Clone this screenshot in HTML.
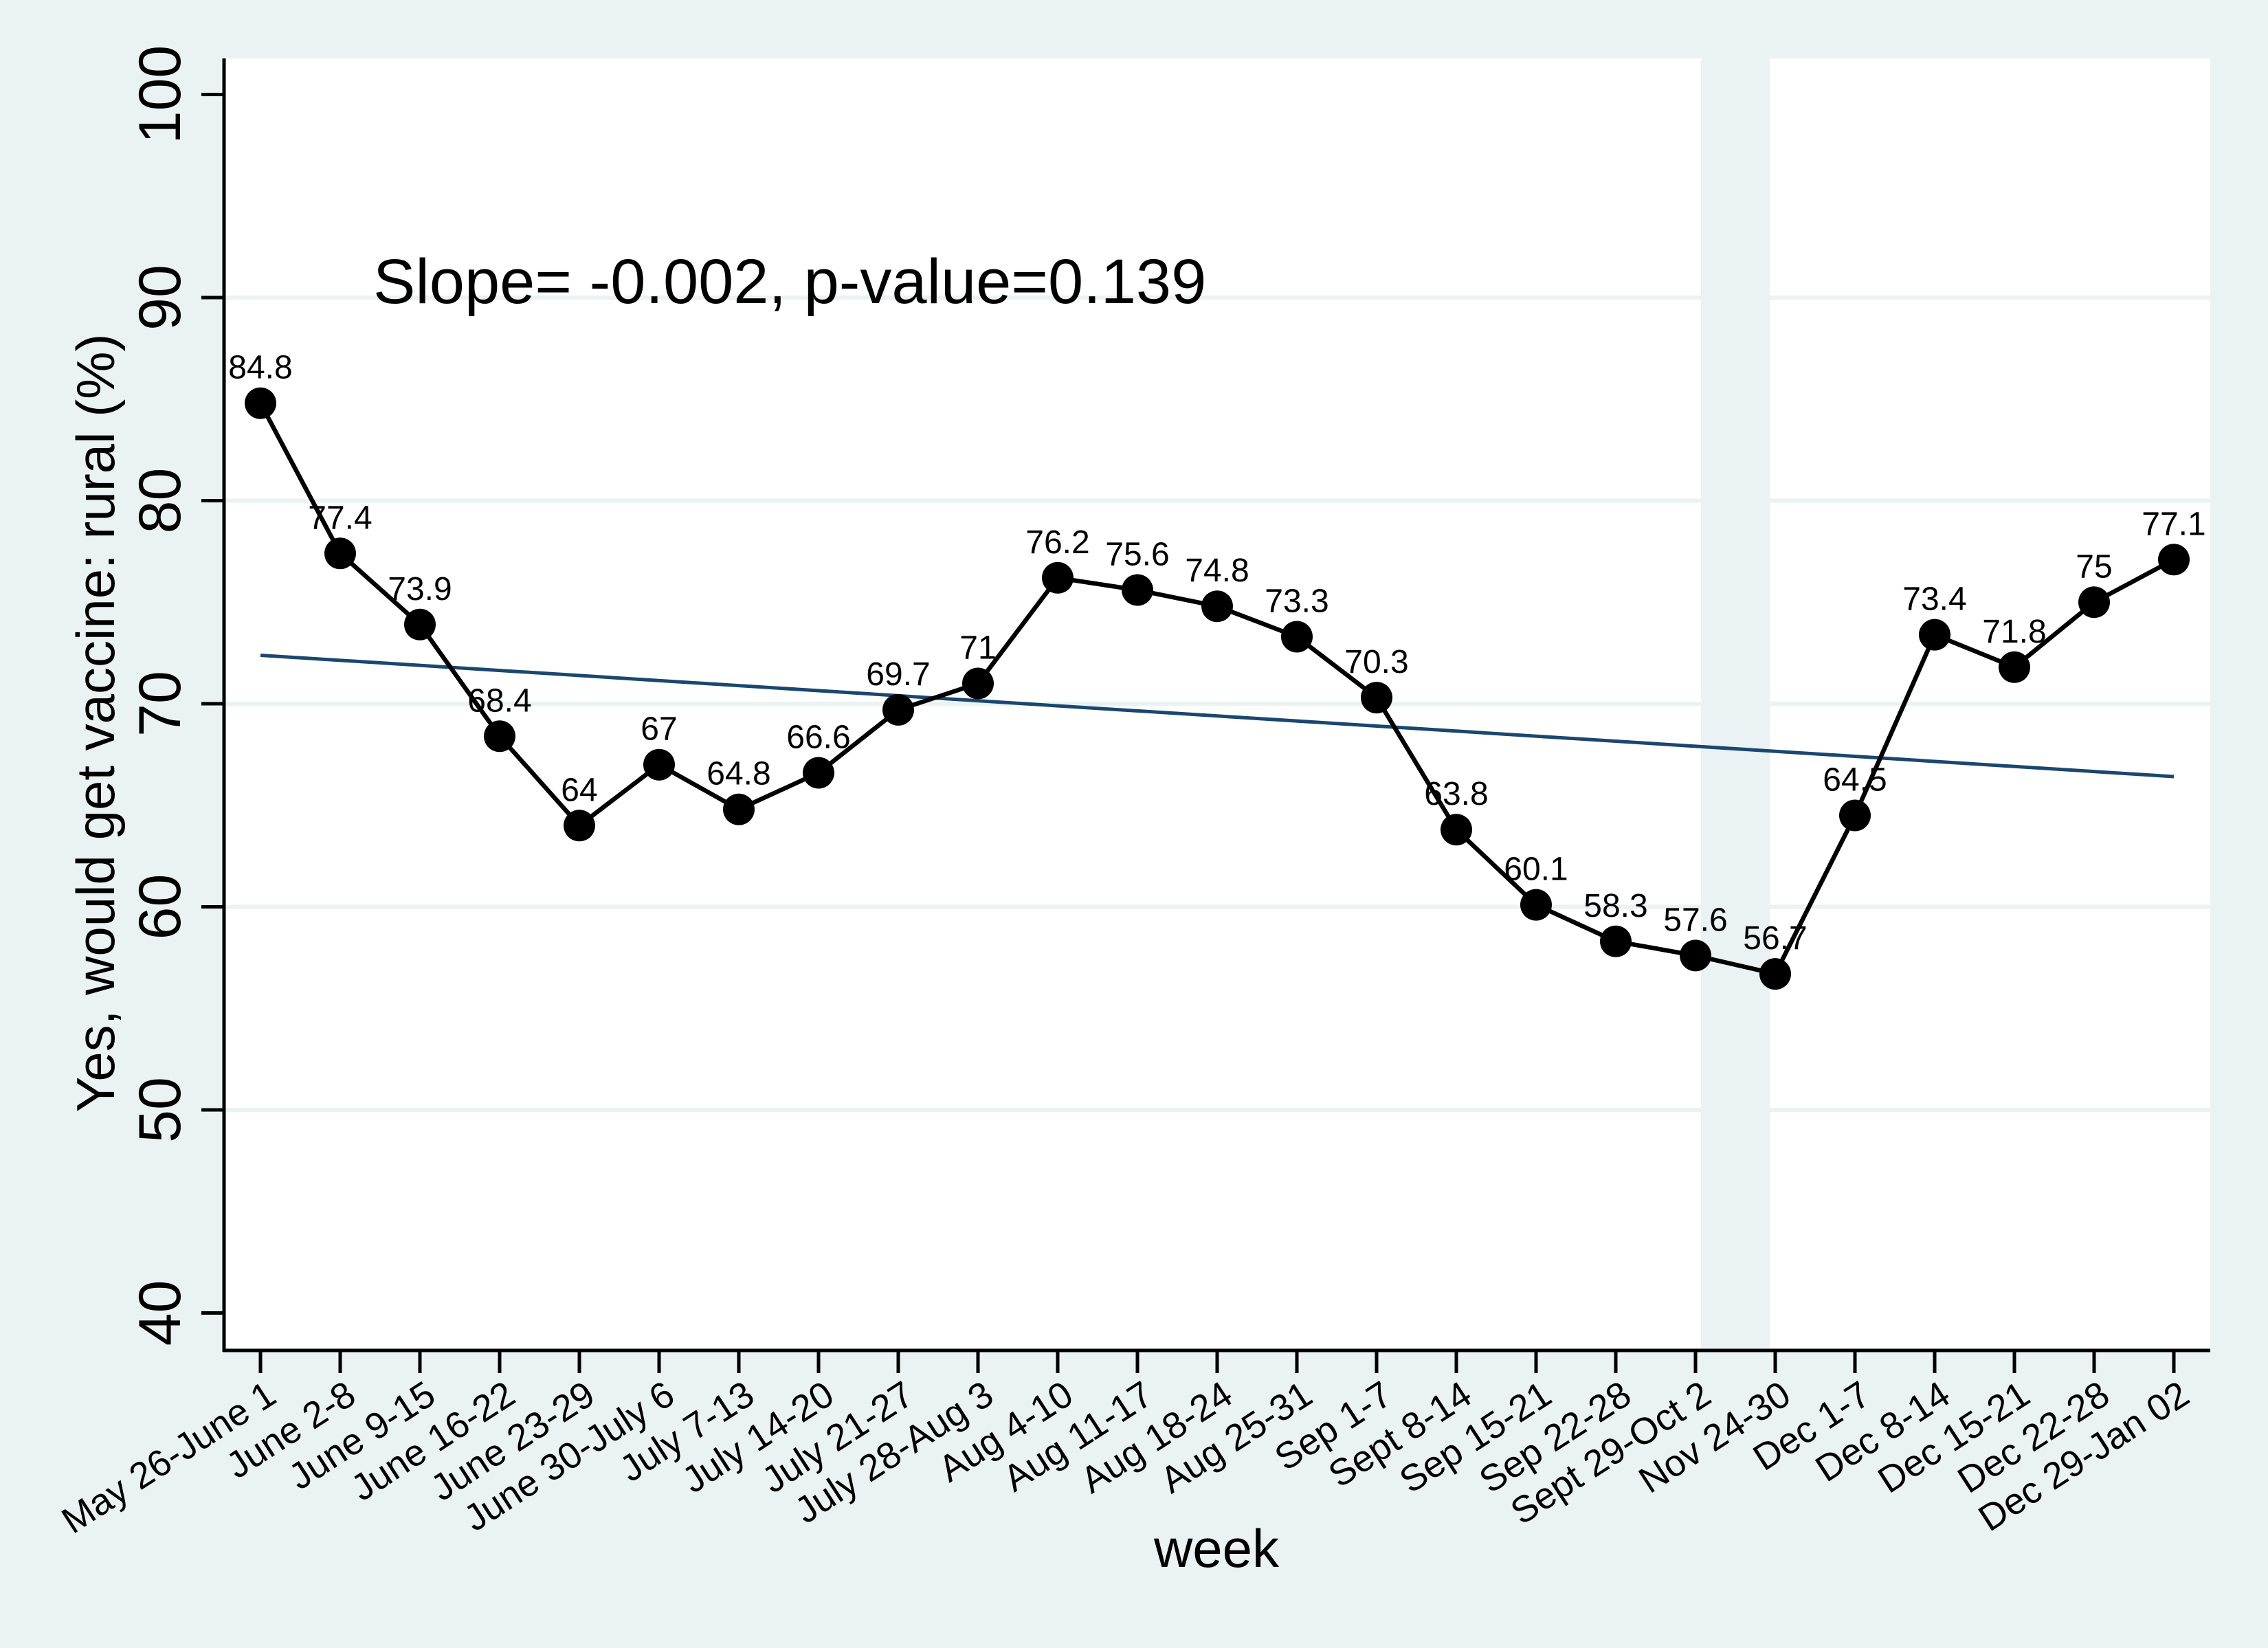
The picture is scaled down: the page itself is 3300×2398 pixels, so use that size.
<!DOCTYPE html>
<html><head><meta charset="utf-8"><style>
html,body{margin:0;padding:0;background:#eaf2f3;}
svg{display:block;}
text{font-family:"Liberation Sans",Arial,sans-serif;fill:#000;}
</style></head><body>
<svg width="3300" height="2398" viewBox="0 0 3300 2398" xmlns="http://www.w3.org/2000/svg">
<rect x="0" y="0" width="3300" height="2398" fill="#eaf2f3"/>
<rect x="326" y="85" width="2890" height="1880" fill="#ffffff"/>
<rect x="2475" y="85" width="100" height="1880" fill="#eaf2f3"/>
<g stroke="#eaf2f3" stroke-width="6">
<line x1="326" y1="433" x2="3216" y2="433"/>
<line x1="326" y1="728.5" x2="3216" y2="728.5"/>
<line x1="326" y1="1024" x2="3216" y2="1024"/>
<line x1="326" y1="1319.5" x2="3216" y2="1319.5"/>
<line x1="326" y1="1615" x2="3216" y2="1615"/>
</g>
<g stroke="#000" stroke-width="5">
<line x1="326" y1="85" x2="326" y2="1967"/>
<line x1="324" y1="1965" x2="3216" y2="1965"/>
<line x1="293" y1="137.5" x2="326" y2="137.5"/>
<line x1="293" y1="433" x2="326" y2="433"/>
<line x1="293" y1="728.5" x2="326" y2="728.5"/>
<line x1="293" y1="1024" x2="326" y2="1024"/>
<line x1="293" y1="1319.5" x2="326" y2="1319.5"/>
<line x1="293" y1="1615" x2="326" y2="1615"/>
<line x1="293" y1="1910.5" x2="326" y2="1910.5"/>
</g>
<g stroke="#000" stroke-width="5">
<line x1="379" y1="1965" x2="379" y2="1998"/><line x1="495" y1="1965" x2="495" y2="1998"/><line x1="611" y1="1965" x2="611" y2="1998"/><line x1="727" y1="1965" x2="727" y2="1998"/><line x1="843" y1="1965" x2="843" y2="1998"/><line x1="959" y1="1965" x2="959" y2="1998"/><line x1="1075" y1="1965" x2="1075" y2="1998"/><line x1="1191" y1="1965" x2="1191" y2="1998"/><line x1="1307" y1="1965" x2="1307" y2="1998"/><line x1="1423" y1="1965" x2="1423" y2="1998"/><line x1="1539" y1="1965" x2="1539" y2="1998"/><line x1="1655" y1="1965" x2="1655" y2="1998"/><line x1="1771" y1="1965" x2="1771" y2="1998"/><line x1="1887" y1="1965" x2="1887" y2="1998"/><line x1="2003" y1="1965" x2="2003" y2="1998"/><line x1="2119" y1="1965" x2="2119" y2="1998"/><line x1="2235" y1="1965" x2="2235" y2="1998"/><line x1="2351" y1="1965" x2="2351" y2="1998"/><line x1="2467" y1="1965" x2="2467" y2="1998"/><line x1="2583" y1="1965" x2="2583" y2="1998"/><line x1="2699" y1="1965" x2="2699" y2="1998"/><line x1="2815" y1="1965" x2="2815" y2="1998"/><line x1="2931" y1="1965" x2="2931" y2="1998"/><line x1="3047" y1="1965" x2="3047" y2="1998"/><line x1="3163" y1="1965" x2="3163" y2="1998"/>
</g>
<g font-size="86" text-anchor="middle">
<text transform="translate(262,137.5) rotate(-90)">100</text>
<text transform="translate(262,433) rotate(-90)">90</text>
<text transform="translate(262,728.5) rotate(-90)">80</text>
<text transform="translate(262,1024) rotate(-90)">70</text>
<text transform="translate(262,1319.5) rotate(-90)">60</text>
<text transform="translate(262,1615) rotate(-90)">50</text>
<text transform="translate(262,1910.5) rotate(-90)">40</text>
</g>
<g font-size="78" text-anchor="middle">
<text transform="translate(166,1052) rotate(-90)">Yes, would get vaccine: rural (%)</text>
<text x="1770" y="2280">week</text>
</g>
<g font-size="54" text-anchor="end">
<text transform="translate(384,2006) rotate(-33)" dy="0.72em">May 26-June 1</text>
<text transform="translate(500,2006) rotate(-33)" dy="0.72em">June 2-8</text>
<text transform="translate(616,2006) rotate(-33)" dy="0.72em">June 9-15</text>
<text transform="translate(732,2006) rotate(-33)" dy="0.72em">June 16-22</text>
<text transform="translate(848,2006) rotate(-33)" dy="0.72em">June 23-29</text>
<text transform="translate(964,2006) rotate(-33)" dy="0.72em">June 30-July 6</text>
<text transform="translate(1080,2006) rotate(-33)" dy="0.72em">July 7-13</text>
<text transform="translate(1196,2006) rotate(-33)" dy="0.72em">July 14-20</text>
<text transform="translate(1312,2006) rotate(-33)" dy="0.72em">July 21-27</text>
<text transform="translate(1428,2006) rotate(-33)" dy="0.72em">July 28-Aug 3</text>
<text transform="translate(1544,2006) rotate(-33)" dy="0.72em">Aug 4-10</text>
<text transform="translate(1660,2006) rotate(-33)" dy="0.72em">Aug 11-17</text>
<text transform="translate(1776,2006) rotate(-33)" dy="0.72em">Aug 18-24</text>
<text transform="translate(1892,2006) rotate(-33)" dy="0.72em">Aug 25-31</text>
<text transform="translate(2008,2006) rotate(-33)" dy="0.72em">Sep 1-7</text>
<text transform="translate(2124,2006) rotate(-33)" dy="0.72em">Sept 8-14</text>
<text transform="translate(2240,2006) rotate(-33)" dy="0.72em">Sep 15-21</text>
<text transform="translate(2356,2006) rotate(-33)" dy="0.72em">Sep 22-28</text>
<text transform="translate(2472,2006) rotate(-33)" dy="0.72em">Sept 29-Oct 2</text>
<text transform="translate(2588,2006) rotate(-33)" dy="0.72em">Nov 24-30</text>
<text transform="translate(2704,2006) rotate(-33)" dy="0.72em">Dec 1-7</text>
<text transform="translate(2820,2006) rotate(-33)" dy="0.72em">Dec 8-14</text>
<text transform="translate(2936,2006) rotate(-33)" dy="0.72em">Dec 15-21</text>
<text transform="translate(3052,2006) rotate(-33)" dy="0.72em">Dec 22-28</text>
<text transform="translate(3168,2006) rotate(-33)" dy="0.72em">Dec 29-Jan 02</text>
</g>
<text x="543" y="441" font-size="92">Slope= -0.002, p-value=0.139</text>
<line x1="379" y1="953.5" x2="3163" y2="1130" stroke="#1a476f" stroke-width="5"/>
<polyline fill="none" stroke="#000" stroke-width="6.5" stroke-linejoin="round" points="379,586.7 495,805.3 611,908.8 727,1071.3 843,1201.3 959,1112.7 1075,1177.7 1191,1124.5 1307,1032.9 1423,994.5 1539,840.8 1655,858.5 1771,882.2 1887,926.5 2003,1015.1 2119,1207.2 2235,1316.6 2351,1369.8 2467,1390.4 2583,1417.1 2699,1186.5 2815,923.6 2931,970.8 3047,876.3 3163,814.3"/>
<g fill="#000">
<circle cx="379" cy="586.7" r="23"/><circle cx="495" cy="805.3" r="23"/><circle cx="611" cy="908.8" r="23"/><circle cx="727" cy="1071.3" r="23"/><circle cx="843" cy="1201.3" r="23"/><circle cx="959" cy="1112.7" r="23"/><circle cx="1075" cy="1177.7" r="23"/><circle cx="1191" cy="1124.5" r="23"/><circle cx="1307" cy="1032.9" r="23"/><circle cx="1423" cy="994.5" r="23"/><circle cx="1539" cy="840.8" r="23"/><circle cx="1655" cy="858.5" r="23"/><circle cx="1771" cy="882.2" r="23"/><circle cx="1887" cy="926.5" r="23"/><circle cx="2003" cy="1015.1" r="23"/><circle cx="2119" cy="1207.2" r="23"/><circle cx="2235" cy="1316.6" r="23"/><circle cx="2351" cy="1369.8" r="23"/><circle cx="2467" cy="1390.4" r="23"/><circle cx="2583" cy="1417.1" r="23"/><circle cx="2699" cy="1186.5" r="23"/><circle cx="2815" cy="923.6" r="23"/><circle cx="2931" cy="970.8" r="23"/><circle cx="3047" cy="876.3" r="23"/><circle cx="3163" cy="814.3" r="23"/>
</g>
<g font-size="48" text-anchor="middle">
<text x="379" y="550.7">84.8</text><text x="495" y="769.3">77.4</text><text x="611" y="872.8">73.9</text><text x="727" y="1035.3">68.4</text><text x="843" y="1165.3">64</text><text x="959" y="1076.7">67</text><text x="1075" y="1141.7">64.8</text><text x="1191" y="1088.5">66.6</text><text x="1307" y="996.9">69.7</text><text x="1423" y="958.5">71</text><text x="1539" y="804.8">76.2</text><text x="1655" y="822.5">75.6</text><text x="1771" y="846.2">74.8</text><text x="1887" y="890.5">73.3</text><text x="2003" y="979.1">70.3</text><text x="2119" y="1171.2">63.8</text><text x="2235" y="1280.6">60.1</text><text x="2351" y="1333.8">58.3</text><text x="2467" y="1354.4">57.6</text><text x="2583" y="1381.1">56.7</text><text x="2699" y="1150.5">64.5</text><text x="2815" y="887.6">73.4</text><text x="2931" y="934.8">71.8</text><text x="3047" y="840.3">75</text><text x="3163" y="778.3">77.1</text>
</g>
</svg>
</body></html>
